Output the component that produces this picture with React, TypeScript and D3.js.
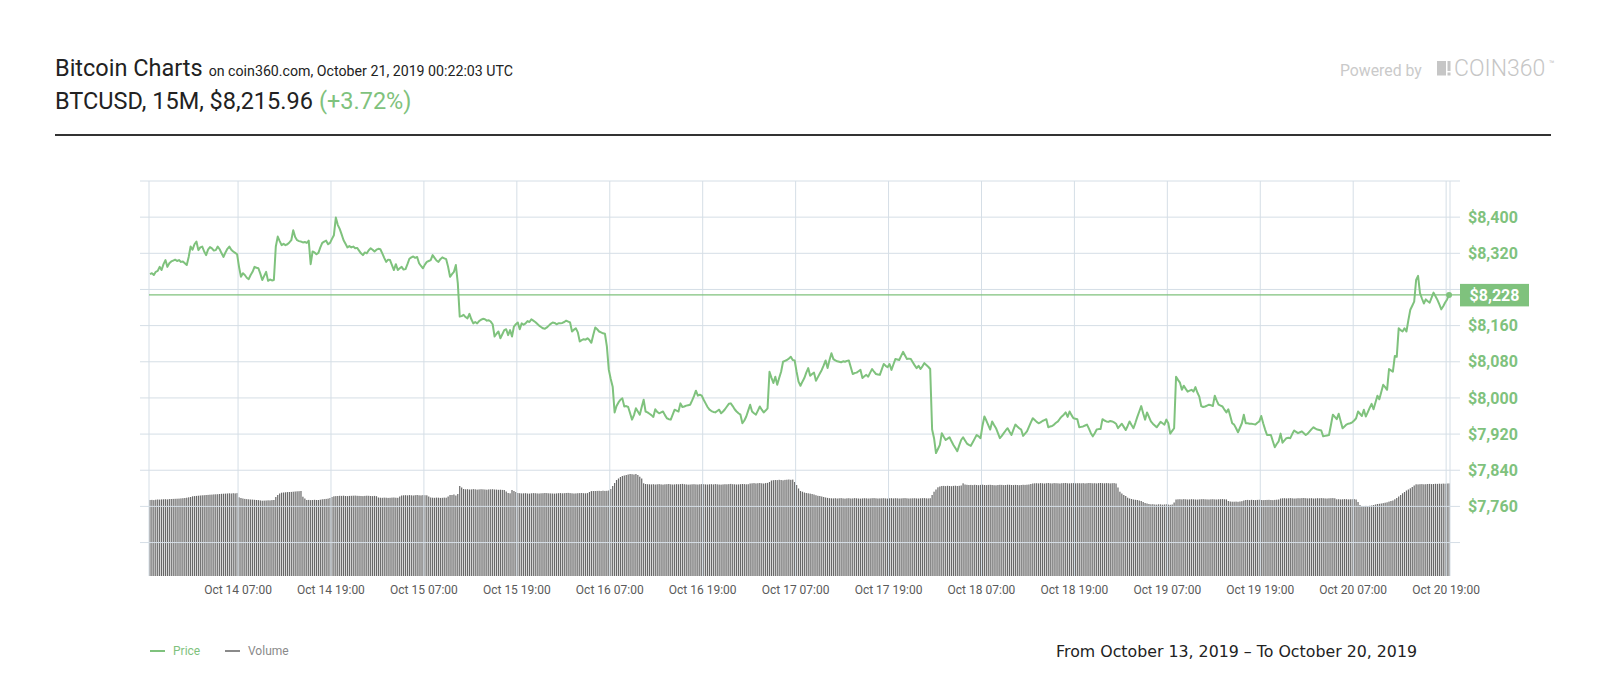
import React from "react";
import * as d3 from "d3";

// BTCUSD 15 minute closes, one block of 96 per day, first bar Oct 13 19:30
const priceD1 = [
  8274, 8276, 8272, 8279, 8281, 8290, 8283, 8296, 8305, 8290, 8298, 8302, 8304, 8306, 8303, 8305,
  8301, 8302, 8298, 8294, 8312, 8335, 8328, 8340, 8346, 8327, 8333, 8335, 8324, 8316, 8328, 8334,
  8331, 8326, 8327, 8335, 8329, 8320, 8312, 8322, 8330, 8335, 8328, 8324, 8321, 8318, 8290, 8268,
  8276, 8272, 8266, 8263, 8272, 8279, 8290, 8288, 8287, 8275, 8261, 8270, 8279, 8259, 8262, 8260,
  8261, 8335, 8357, 8347, 8338, 8341, 8338, 8340, 8344, 8349, 8371, 8356, 8349, 8347, 8346, 8344,
  8345, 8343, 8348, 8296, 8324, 8322, 8318, 8321, 8333, 8343, 8346, 8348, 8340, 8343, 8352, 8360,
];
const priceD2 = [
  8399, 8383, 8374, 8362, 8349, 8341, 8333, 8336, 8333, 8335, 8331, 8332, 8326, 8320, 8316, 8322,
  8320, 8327, 8331, 8328, 8324, 8328, 8330, 8329, 8320, 8310, 8301, 8306, 8305, 8294, 8283, 8296,
  8283, 8287, 8290, 8284, 8285, 8296, 8308, 8311, 8313, 8310, 8312, 8298, 8292, 8287, 8295, 8301,
  8303, 8305, 8316, 8310, 8304, 8301, 8307, 8311, 8309, 8307, 8290, 8268, 8274, 8279, 8294, 8254,
  8180, 8181, 8184, 8179, 8176, 8186, 8174, 8165, 8168, 8165, 8170, 8173, 8175, 8174, 8171, 8172,
  8169, 8163, 8136, 8142, 8147, 8132, 8141, 8150, 8152, 8139, 8150, 8136, 8158, 8163, 8167, 8152,
];
const priceD3 = [
  8165, 8162, 8165, 8170, 8168, 8174, 8171, 8168, 8164, 8160, 8157, 8154, 8153, 8156, 8160, 8164,
  8167, 8166, 8163, 8165, 8165, 8166, 8168, 8171, 8169, 8167, 8147, 8151, 8154, 8145, 8125, 8128,
  8130, 8129, 8132, 8128, 8122, 8140, 8156, 8152, 8147, 8145, 8143, 8142, 8114, 8062, 8042, 8025,
  7968, 7982, 7990, 7996, 7999, 7981, 7982, 7980, 7966, 7952, 7962, 7977, 7970, 7963, 7980, 7996,
  7970, 7968, 7965, 7962, 7958, 7975, 7969, 7966, 7968, 7970, 7962, 7955, 7953, 7952, 7963, 7974,
  7972, 7970, 7988, 7980, 7981, 7983, 7984, 7985, 7994, 8004, 8016, 8005, 8007, 8005, 7996, 7988,
];
const priceD4 = [
  7980, 7974, 7971, 7969, 7968, 7971, 7974, 7966, 7970, 7975, 7981, 7987, 7988, 7982, 7975, 7970,
  7966, 7963, 7944, 7950, 7959, 7972, 7985, 7970, 7966, 7963, 7972, 7981, 7974, 7968, 7972, 7977,
  8058, 8045, 8033, 8047, 8029, 8044, 8058, 8080, 8082, 8084, 8087, 8091, 8084, 8083, 8058, 8036,
  8027, 8036, 8044, 8056, 8066, 8049, 8053, 8056, 8038, 8046, 8054, 8062, 8072, 8083, 8066, 8084,
  8099, 8086, 8083, 8081, 8080, 8079, 8081, 8080, 8082, 8083, 8068, 8053, 8055, 8056, 8059, 8062,
  8044, 8048, 8051, 8047, 8056, 8064, 8058, 8053, 8052, 8051, 8063, 8075, 8071, 8068, 8075, 8062,
];
const priceD5 = [
  8074, 8086, 8085, 8084, 8093, 8102, 8094, 8086, 8087, 8086, 8079, 8072, 8066, 8071, 8064, 8070,
  8077, 8073, 8069, 8064, 7930, 7911, 7878, 7887, 7896, 7922, 7914, 7907, 7910, 7913, 7904, 7896,
  7889, 7882, 7895, 7907, 7913, 7906, 7899, 7896, 7894, 7902, 7910, 7918, 7915, 7911, 7938, 7959,
  7950, 7940, 7930, 7948, 7940, 7933, 7922, 7911, 7916, 7922, 7928, 7933, 7925, 7918, 7930, 7941,
  7937, 7933, 7930, 7916, 7921, 7926, 7936, 7946, 7955, 7951, 7947, 7944, 7946, 7949, 7951, 7953,
  7935, 7937, 7938, 7941, 7945, 7948, 7954, 7959, 7963, 7968, 7958, 7970, 7962, 7955, 7954, 7953,
];
const priceD6 = [
  7935, 7936, 7937, 7939, 7941, 7932, 7922, 7915, 7922, 7930, 7931, 7931, 7953, 7950, 7948, 7947,
  7949, 7948, 7946, 7943, 7933, 7938, 7943, 7936, 7929, 7938, 7948, 7940, 7933, 7945, 7958, 7970,
  7982, 7966, 7952, 7968, 7958, 7948, 7943, 7939, 7935, 7941, 7947, 7944, 7941, 7952, 7944, 7921,
  7927, 7933, 8047, 8040, 8034, 8018, 8027, 8020, 8014, 8016, 8018, 8014, 8024, 8012, 8003, 7982,
  7980, 7981, 7983, 7985, 7984, 7982, 8005, 7994, 7985, 7983, 7981, 7974, 7968, 7975, 7960, 7944,
  7941, 7933, 7924, 7934, 7944, 7963, 7944, 7944, 7943, 7943, 7942, 7941, 7945, 7948, 7960, 7944,
];
const priceD7 = [
  7930, 7918, 7918, 7918, 7904, 7891, 7898, 7904, 7921, 7901, 7906, 7911, 7912, 7911, 7920, 7928,
  7925, 7922, 7924, 7926, 7922, 7918, 7921, 7926, 7931, 7935, 7932, 7930, 7929, 7928, 7915, 7916,
  7917, 7918, 7940, 7963, 7958, 7953, 7965, 7949, 7933, 7937, 7941, 7943, 7944, 7946, 7950, 7955,
  7970, 7965, 7960, 7974, 7959, 7968, 7978, 7987, 7975, 7990, 8005, 7997, 8013, 8029, 8024, 8018,
  8064, 8061, 8058, 8093, 8091, 8154, 8150, 8147, 8154, 8147, 8172, 8195, 8204, 8213, 8261, 8270,
  8232, 8220, 8209, 8218, 8214, 8211, 8222, 8233, 8225, 8217, 8207, 8196, 8203, 8211, 8218, 8228,
];

// rolling volume per bar, same blocks
const volumeD1 = [
  3040, 3044, 3036, 3052, 3060, 3056, 3064, 3068, 3072, 3064, 3076, 3080, 3084, 3088, 3092, 3096,
  3104, 3112, 3120, 3132, 3148, 3160, 3188, 3196, 3204, 3212, 3220, 3228, 3232, 3240, 3244, 3252,
  3256, 3264, 3268, 3272, 3280, 3288, 3292, 3296, 3300, 3308, 3300, 3312, 3304, 3316, 3148, 3120,
  3100, 3084, 3076, 3068, 3060, 3056, 3048, 3040, 3036, 3024, 3012, 3016, 3020, 3028, 3024, 3036,
  3040, 3160, 3240, 3300, 3332, 3340, 3348, 3356, 3360, 3364, 3372, 3380, 3388, 3392, 3400, 3172,
  3100, 3040, 3044, 3036, 3040, 3048, 3040, 3040, 3052, 3068, 3076, 3084, 3096, 3120, 3160, 3188,
];
const volumeD2 = [
  3196, 3200, 3208, 3204, 3212, 3200, 3196, 3204, 3208, 3212, 3216, 3208, 3204, 3200, 3196, 3204,
  3212, 3208, 3200, 3196, 3204, 3192, 3140, 3132, 3128, 3136, 3132, 3124, 3128, 3136, 3140, 3132,
  3128, 3180, 3220, 3228, 3232, 3224, 3236, 3228, 3220, 3232, 3240, 3228, 3224, 3236, 3232, 3228,
  3180, 3140, 3132, 3128, 3136, 3132, 3124, 3128, 3136, 3132, 3180, 3240, 3240, 3260, 3220, 3280,
  3600, 3540, 3480, 3468, 3472, 3460, 3464, 3476, 3468, 3456, 3464, 3472, 3468, 3460, 3452, 3464,
  3468, 3472, 3460, 3456, 3448, 3452, 3444, 3440, 3380, 3320, 3308, 3440, 3400, 3360, 3320, 3312,
];
const volumeD3 = [
  3304, 3308, 3312, 3300, 3296, 3308, 3316, 3312, 3304, 3300, 3308, 3312, 3320, 3316, 3308, 3304,
  3300, 3296, 3304, 3312, 3316, 3308, 3312, 3320, 3324, 3316, 3308, 3300, 3304, 3312, 3316, 3320,
  3312, 3308, 3316, 3360, 3396, 3400, 3400, 3404, 3408, 3400, 3412, 3404, 3408, 3420, 3480, 3600,
  3720, 3840, 3900, 3960, 4000, 4020, 4040, 4060, 4080, 4072, 4060, 4080, 4040, 3972, 3900, 3708,
  3680, 3672, 3668, 3664, 3672, 3660, 3668, 3676, 3664, 3656, 3668, 3672, 3680, 3668, 3660, 3664,
  3672, 3668, 3676, 3684, 3672, 3664, 3656, 3660, 3668, 3672, 3664, 3660, 3668, 3676, 3672, 3664,
];
const volumeD4 = [
  3660, 3668, 3672, 3664, 3676, 3668, 3660, 3656, 3664, 3672, 3668, 3676, 3684, 3672, 3668, 3660,
  3664, 3672, 3680, 3676, 3668, 3672, 3700, 3708, 3716, 3704, 3712, 3720, 3708, 3700, 3716, 3724,
  3760, 3820, 3832, 3840, 3836, 3848, 3840, 3828, 3844, 3852, 3860, 3848, 3856, 3760, 3640, 3500,
  3400, 3372, 3340, 3320, 3308, 3296, 3280, 3260, 3232, 3208, 3200, 3180, 3160, 3140, 3124, 3112,
  3108, 3104, 3112, 3100, 3108, 3116, 3104, 3096, 3108, 3112, 3100, 3104, 3116, 3108, 3100, 3096,
  3104, 3112, 3108, 3100, 3104, 3112, 3116, 3108, 3100, 3104, 3108, 3112, 3104, 3096, 3108, 3112,
];
const volumeD5 = [
  3104, 3112, 3108, 3100, 3104, 3112, 3116, 3108, 3100, 3104, 3108, 3112, 3104, 3100, 3108, 3112,
  3116, 3108, 3104, 3112, 3240, 3372, 3460, 3548, 3580, 3600, 3604, 3596, 3608, 3600, 3592, 3604,
  3612, 3600, 3608, 3620, 3708, 3660, 3648, 3640, 3644, 3636, 3648, 3640, 3632, 3644, 3652, 3640,
  3636, 3644, 3648, 3640, 3632, 3628, 3640, 3648, 3644, 3636, 3640, 3652, 3648, 3640, 3636, 3644,
  3640, 3632, 3640, 3648, 3644, 3652, 3660, 3680, 3700, 3708, 3712, 3704, 3716, 3708, 3700, 3712,
  3720, 3708, 3704, 3716, 3712, 3708, 3700, 3712, 3716, 3720, 3708, 3704, 3712, 3716, 3708, 3712,
];
const volumeD6 = [
  3712, 3708, 3716, 3704, 3712, 3720, 3716, 3708, 3712, 3704, 3716, 3720, 3712, 3708, 3716, 3712,
  3704, 3712, 3716, 3700, 3540, 3372, 3300, 3240, 3200, 3132, 3100, 3080, 3060, 3048, 3040, 3020,
  3000, 2960, 2920, 2900, 2880, 2868, 2872, 2860, 2856, 2868, 2864, 2852, 2860, 2868, 2856, 2848,
  2860, 2940, 3060, 3068, 3072, 3064, 3076, 3068, 3060, 3064, 3072, 3068, 3060, 3056, 3064, 3072,
  3076, 3068, 3064, 3060, 3068, 3072, 3064, 3060, 3068, 3072, 3076, 3068, 3064, 3000, 2980, 2972,
  2972, 2976, 2968, 2980, 2992, 3020, 3040, 3044, 3036, 3048, 3040, 3036, 3044, 3052, 3040, 3036,
];
const volumeD7 = [
  3040, 3044, 3048, 3040, 3036, 3044, 3052, 3060, 3100, 3108, 3112, 3104, 3108, 3116, 3108, 3100,
  3104, 3112, 3108, 3116, 3120, 3112, 3104, 3108, 3112, 3100, 3104, 3112, 3108, 3116, 3112, 3104,
  3100, 3108, 3112, 3116, 3108, 3068, 3072, 3064, 3068, 3076, 3072, 3064, 3068, 3072, 3076, 3060,
  2960, 2840, 2800, 2796, 2804, 2800, 2808, 2820, 2840, 2860, 2880, 2888, 2900, 2916, 2932, 2948,
  2976, 3000, 3020, 3068, 3120, 3180, 3240, 3308, 3360, 3420, 3460, 3508, 3560, 3620, 3668, 3664,
  3672, 3676, 3668, 3672, 3680, 3684, 3676, 3680, 3688, 3684, 3692, 3688, 3696, 3692, 3700, 3704,
];

const gridPrices = [7680, 7760, 7840, 7920, 8000, 8080, 8160, 8240, 8320, 8400, 8480];
const labelPrices = [7760, 7840, 7920, 8000, 8080, 8160, 8240, 8320, 8400];
const startTime = new Date(Date.UTC(2019, 9, 13, 19, 30));
const endTime = new Date(Date.UTC(2019, 9, 20, 19, 30));
const barMinutes = 15;

const GREEN = "#7fc27d";
const GRID = "#d5dee6";

export default function App() {
  const price = [...priceD1, ...priceD2, ...priceD3, ...priceD4, ...priceD5, ...priceD6, ...priceD7];
  const volume = [...volumeD1, ...volumeD2, ...volumeD3, ...volumeD4, ...volumeD5, ...volumeD6, ...volumeD7];
  const times = price.map((_, i) => new Date(startTime.getTime() + (i * barMinutes + barMinutes / 2) * 60000));

  const left = 149, right = 1450, top = 181, bottom = 576;
  const x = d3.scaleUtc().domain([startTime, endTime]).range([left, right]);
  const y = d3.scaleLinear().domain([7606, 8480]).range([bottom, top]);
  const yVol = d3.scaleLinear().domain([0, 4000]).range([bottom, bottom - 100]);

  const line = d3.line<number>()
    .x((_, i) => x(times[i]))
    .y((d) => y(d));

  const xTicks = d3.utcHour.range(startTime, endTime).filter((d) => d.getUTCHours() % 12 === 7);
  const fmtTime = d3.utcFormat("%b %d %H:%M");
  const fmtPrice = d3.format("$,.0f");

  const last = price[price.length - 1];
  const lastY = y(last);
  const lastX = x(times[times.length - 1]);

  return (
    <svg width={1600} height={700} style={{ position: "absolute", left: 0, top: 0, fontFamily: "Roboto, sans-serif" }}>
      {/* header */}
      <text x={55} y={76} fontSize={23.5} fill="#222">
        Bitcoin Charts
        <tspan fontSize={14.2} dx={6}>on coin360.com, October 21, 2019 00:22:03 UTC</tspan>
      </text>
      <text x={55} y={109} fontSize={23.5} fill="#222">
        BTCUSD, 15M, $8,215.96
        <tspan fill={GREEN} dx={6}>(+3.72%)</tspan>
      </text>
      <line x1={55} x2={1551} y1={135} y2={135} stroke="#333" strokeWidth={2} />

      <text x={1340} y={76} fontSize={15.8} fill="#cacaca">Powered by</text>
      <g fill="#c6c6c6">
        <rect x={1437} y={61} width={9} height={14.5} />
        <rect x={1447.5} y={61} width={3} height={10} />
        <rect x={1447.5} y={72.5} width={3} height={3} />
        <text x={1454} y={76} fontSize={23} fontWeight={300}>COIN360</text>
        <text x={1549} y={67} fontSize={9}>™</text>
      </g>

      {/* volume bars */}
      <g fill="#686868">
        {volume.map((v, i) => (
          <rect key={i} x={x(times[i]) - 0.6} width={1.2} y={yVol(v)} height={bottom - yVol(v)} />
        ))}
      </g>

      {/* grid */}
      <g stroke={GRID} strokeWidth={1}>
        {gridPrices.map((p) => (
          <line key={p} x1={140} x2={1460} y1={y(p)} y2={y(p)} />
        ))}
        {[startTime, ...xTicks, endTime].map((t, i) => (
          <line key={i} x1={x(t)} x2={x(t)} y1={top} y2={bottom} />
        ))}
      </g>

      {/* last price marker line */}
      <line x1={left} x2={1460} y1={lastY} y2={lastY} stroke={GREEN} strokeWidth={1.3} />

      <path d={line(price) || ""} fill="none" stroke={GREEN} strokeWidth={2} strokeLinejoin="round" />
      <circle cx={lastX} cy={lastY} r={3} fill={GREEN} />

      {/* price axis */}
      <g fontSize={16} fontWeight="bold" fill={GREEN}>
        {labelPrices
          .filter((p) => Math.abs(y(p) - lastY) > 12)
          .map((p) => (
            <text key={p} x={1468} y={y(p)} dy="0.35em">{fmtPrice(p)}</text>
          ))}
      </g>
      <rect x={1460} y={lastY - 11} width={69} height={22.5} fill={GREEN} />
      <text x={1494.5} y={lastY} dy="0.36em" textAnchor="middle" fontSize={16} fontWeight="bold" fill="#fff">
        {fmtPrice(last)}
      </text>

      {/* time axis */}
      <g fontSize={12} fill="#5a5a5a" textAnchor="middle">
        {xTicks.map((t, i) => (
          <text key={i} x={x(t)} y={594}>{fmtTime(t)}</text>
        ))}
      </g>

      {/* legend */}
      <line x1={150} x2={165} y1={651} y2={651} stroke={GREEN} strokeWidth={2} />
      <text x={173} y={655} fontSize={12} fill={GREEN}>Price</text>
      <line x1={225} x2={240} y1={651} y2={651} stroke="#8a8a8a" strokeWidth={2} />
      <text x={248} y={655} fontSize={12} fill="#8a8a8a">Volume</text>

      <text x={1417} y={657} fontSize={15.8} fill="#222" textAnchor="end" fontFamily="'DejaVu Sans', sans-serif">
        From October 13, 2019 – To October 20, 2019
      </text>
    </svg>
  );
}
